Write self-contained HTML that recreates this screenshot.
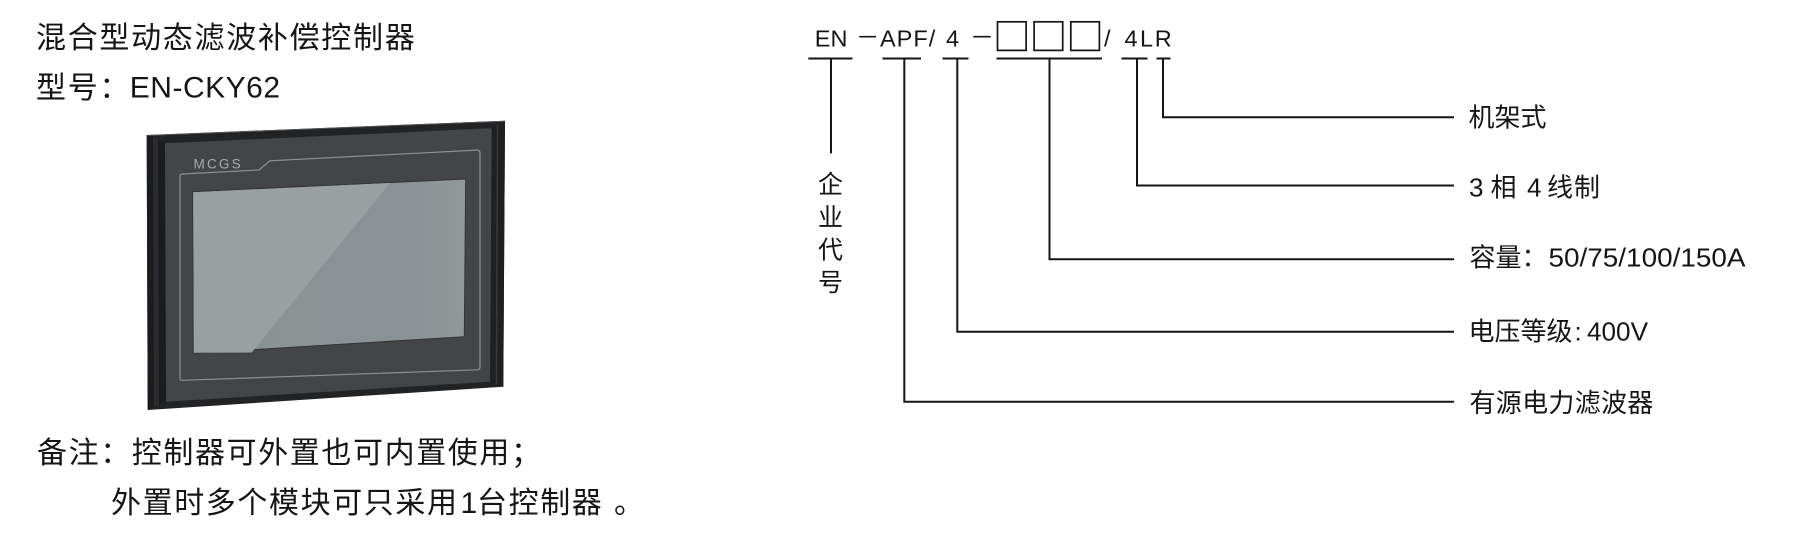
<!DOCTYPE html>
<html>
<head>
<meta charset="utf-8">
<style>
  html, body { margin: 0; padding: 0; background: #ffffff; }
  body { width: 1800px; height: 552px; overflow: hidden; }
  svg { display: block; }
  text { font-family: "Liberation Sans", "Noto Sans CJK SC", sans-serif; fill: #151515; }
</style>
</head>
<body>
<svg width="1800" height="552" viewBox="0 0 1800 552" xmlns="http://www.w3.org/2000/svg">
  <rect x="0" y="0" width="1800" height="552" fill="#ffffff"/>

  <!-- ===== Left titles ===== -->
  <text x="36" y="48" font-size="30" letter-spacing="1.7">混合型动态滤波补偿控制器</text>
  <text x="36" y="98" font-size="30" letter-spacing="1.7">型号：</text>
  <text x="129.8" y="97.6" font-size="30" letter-spacing="0.5">EN-CKY62</text>

  <!-- ===== Device ===== -->
  <defs>
    <linearGradient id="scr" x1="0" y1="0" x2="1" y2="0">
      <stop offset="0" stop-color="#8a9194"/>
      <stop offset="0.75" stop-color="#8b9295"/>
      <stop offset="1" stop-color="#92989a"/>
    </linearGradient>
  </defs>
  <!-- outer rim -->
  <polygon points="146.7,135 505,120.7 503.3,386.7 147.7,410" fill="#222325"/>
  <!-- top edge highlight -->
  <polyline points="147.5,135.5 504.5,121.2" fill="none" stroke="#505153" stroke-width="1"/>
  <!-- left side band -->
  <polygon points="146.7,135 165,143.3 166,401.7 147.7,410" fill="#1b1c1e"/>
  <polygon points="153,137.5 158,139.5 159,405 154,407" fill="#2c2d2f"/>
  <!-- right side band -->
  <polygon points="491.7,128.3 505,120.7 503.3,386.7 490,381.7" fill="#1f2022"/>
  <line x1="497.5" y1="125" x2="496.5" y2="384" stroke="#38393b" stroke-width="1.5"/>
  <!-- inner panel -->
  <polygon points="165,143.3 491.7,128.3 490,381.7 166,401.7" fill="#444547"/>
  <!-- groove line -->
  <path d="M180,176 L180,378 Q180,380.5 182.5,380.3 L477.5,369.8 Q480,369.6 480,367 L480,153 Q480,150 477,150.1 L270,160.8 L259,170 L183,174 Q180,174.2 180,176 Z"
        fill="none" stroke="#8e9193" stroke-width="1.2"/>
  <!-- screen -->
  <polygon points="192.7,191.7 465.7,179 464.3,336.7 193.3,353.3" fill="url(#scr)" stroke="#333436" stroke-width="1"/>
  <polygon points="193.2,192.2 390,183 251.7,352.5 193.8,352.8" fill="#9aa0a2"/>
  <!-- MCGS logo -->
  <text x="193.5" y="168.4" font-size="13.5" letter-spacing="2.2" style="fill:#a8abad">MCGS</text>

  <!-- ===== Notes ===== -->
  <text x="37" y="463" font-size="30" letter-spacing="1.6">备注：控制器可外置也可内置使用；</text>
  <text x="111" y="513" font-size="30" letter-spacing="1.6">外置时多个模块可只采用</text>
  <text x="460.5" y="513" font-size="30">1</text>
  <text x="477" y="513" font-size="30" letter-spacing="1.6">台控制器</text>
  <text x="614" y="513" font-size="30">。</text>

  <!-- ===== Model code ===== -->
  <g font-size="23.5">
    <text x="814.8" y="46.7">EN</text>
    <text x="880" y="46.7" letter-spacing="1">APF/</text>
    <text x="946" y="46.7">4</text>
    <text x="1104" y="46.7">/</text>
    <text x="1124.5" y="46.7">4</text>
    <text x="1140" y="46.7">L</text>
    <text x="1154.8" y="46.7">R</text>
  </g>
  <!-- dashes -->
  <line x1="859.3" y1="36.7" x2="876" y2="36.7" stroke="#151515" stroke-width="1.7"/>
  <line x1="973.3" y1="36.7" x2="990.7" y2="36.7" stroke="#151515" stroke-width="1.7"/>
  <!-- boxes -->
  <g fill="none" stroke="#151515" stroke-width="1.7">
    <rect x="997.5" y="21.8" width="28.6" height="28.6"/>
    <rect x="1034.1" y="21.8" width="28.6" height="28.6"/>
    <rect x="1070.8" y="21.8" width="28.6" height="28.6"/>
  </g>

  <!-- underlines -->
  <g stroke="#151515" stroke-width="2" fill="none">
    <line x1="808.3" y1="58.5" x2="852.5" y2="58.5"/>
    <line x1="882.5" y1="58.5" x2="921" y2="58.5"/>
    <line x1="942.5" y1="58.5" x2="968.5" y2="58.5"/>
    <line x1="996.5" y1="58.5" x2="1102" y2="58.5"/>
    <line x1="1121.5" y1="58.5" x2="1147.5" y2="58.5"/>
    <line x1="1156.5" y1="58.5" x2="1170.5" y2="58.5"/>
    <!-- connectors -->
    <line x1="831" y1="58.5" x2="831" y2="153.3"/>
    <polyline points="904.3,58.5 904.3,401.7 1454,401.7"/>
    <polyline points="957.3,58.5 957.3,331.7 1454,331.7"/>
    <polyline points="1049.5,58.5 1049.5,259.3 1454,259.3"/>
    <polyline points="1137,58.5 1137,185.5 1454,185.5"/>
    <polyline points="1163,58.5 1163,117.3 1454,117.3"/>
  </g>

  <!-- vertical label -->
  <g font-size="25" text-anchor="middle">
    <text x="830.5" y="193.2">企</text>
    <text x="830.5" y="226">业</text>
    <text x="830.5" y="258.3">代</text>
    <text x="830.5" y="290.8">号</text>
  </g>

  <!-- right labels -->
  <g font-size="26">
    <text x="1468.5" y="126.5">机架式</text>

    <text x="1469" y="196.5">3</text>
    <text x="1490.5" y="196.5">相</text>
    <text x="1527" y="196.5">4</text>
    <text x="1547" y="196.5" letter-spacing="1">线制</text>

    <text x="1469.5" y="266.5">容量：</text>
    <text x="1548.5" y="266.5" textLength="197" lengthAdjust="spacingAndGlyphs">50/75/100/150A</text>

    <text x="1468.5" y="340.5">电压等级</text>
    <text x="1574.5" y="340.5">:</text>
    <text x="1587" y="340.5" textLength="61" lengthAdjust="spacingAndGlyphs">400V</text>

    <text x="1469.5" y="412" letter-spacing="0.3">有源电力滤波器</text>
  </g>
</svg>
</body>
</html>
